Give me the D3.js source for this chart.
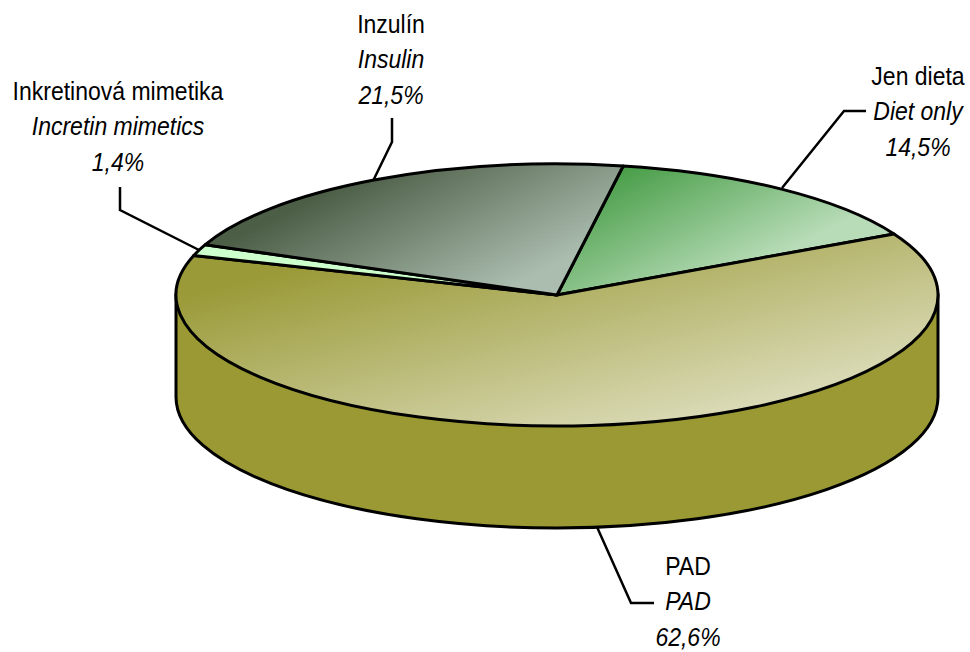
<!DOCTYPE html>
<html>
<head>
<meta charset="utf-8">
<script src="https://cdn.jsdelivr.net/npm/d3@7"></script>
<style>
  html, body { margin: 0; padding: 0; background: #fff; }
  text { font-family: "Liberation Sans", sans-serif; font-size: 26.5px; fill: #000; text-anchor: middle; }
  .en, .pct { font-style: italic; }
</style>
</head>
<body>
<div class="chart"></div>
<script>
// data, in drawing order (clockwise)
var namesCz = ["Jen dieta", "PAD", "Inkretinová mimetika", "Inzulín"];
var namesEn = ["Diet only", "PAD", "Incretin mimetics", "Insulin"];
var values = [14.5, 62.6, 1.4, 21.5];
var valueLabels = ["14,5%", "62,6%", "1,4%", "21,5%"];

var svgWidth = 970;
var svgHeight = 652;

// pie geometry
var cx = 557, cy = 295, rx = 381, ry = 131, depth = 102;
var tilt = ry / rx;
var startDeg = 10;
var narrow = 0.868; // no Arial Narrow here, so squeeze Liberation Sans

// colours and gradient vectors per slice (page coordinates), same order as the values
var sliceFill = [
  { id: "gDiet", x1: 640, y1: 150, x2: 710, y2: 290, from: "#429a42", to: "#b8dcb8" },
  { id: "gPad", x1: 470, y1: 225, x2: 535, y2: 490, from: "#9a9a38", to: "#e2e2c6" },
  { id: "gInc", x1: 200, y1: 250, x2: 500, y2: 290, from: "#ccffcc", to: "#ccffcc" },
  { id: "gIns", x1: 370, y1: 170, x2: 445, y2: 320, from: "#4d5e47", to: "#abbdaf" }
];

// label anchors and leader lines, same order as the values
var labelPos = [
  { x: 918, y: 85 },
  { x: 688, y: 575 },
  { x: 118, y: 100 },
  { x: 391, y: 33 }
];
var leaders = [
  [[866, 111], [844, 111], [782, 188]],
  [[597, 527], [631, 603], [654, 603]],
  [[120, 187], [120, 210], [199, 250]],
  [[392, 118], [392, 142], [373, 181]]
];

var svg = d3.select(".chart")
  .append("svg")
  .attr("width", svgWidth)
  .attr("height", svgHeight)
  .style("display", "block");

var defs = svg.append("defs");
sliceFill.forEach(function (f) {
  // undo the pie group's transform so the vectors stay in page coordinates
  var grad = defs.append("linearGradient")
    .attr("id", f.id)
    .attr("gradientUnits", "userSpaceOnUse")
    .attr("gradientTransform", `scale(1, ${1 / tilt}) translate(${-cx}, ${-cy})`)
    .attr("x1", f.x1).attr("y1", f.y1)
    .attr("x2", f.x2).attr("y2", f.y2);
  grad.append("stop").attr("offset", 0).attr("stop-color", f.from);
  grad.append("stop").attr("offset", 1).attr("stop-color", f.to);
});

// leaders go under the pie
var line = d3.line();
svg.selectAll(".leader")
  .data(leaders)
  .enter()
  .append("path")
  .attr("class", "leader")
  .attr("d", line)
  .attr("fill", "none")
  .attr("stroke", "#000")
  .attr("stroke-width", 2.5);

// side wall, drawn in the un-squashed circle space
var wall = d3.path();
wall.moveTo(-rx, 0);
wall.lineTo(-rx, depth / tilt);
wall.arc(0, depth / tilt, rx, Math.PI, 0, true);
wall.lineTo(rx, 0);
wall.closePath();

var pieGroup = svg.append("g")
  .attr("transform", `translate(${cx}, ${cy}) scale(1, ${tilt})`);

pieGroup.append("path")
  .attr("d", wall.toString())
  .attr("fill", "#9a9933")
  .attr("stroke", "#000")
  .attr("stroke-width", 3)
  .attr("vector-effect", "non-scaling-stroke");

// top face
var pie = d3.pie()
  .sort(null)
  .startAngle(startDeg * Math.PI / 180)
  .endAngle((startDeg + 360) * Math.PI / 180);

var arc = d3.arc().innerRadius(0).outerRadius(rx);

pieGroup.selectAll(".slice")
  .data(pie(values))
  .enter()
  .append("path")
  .attr("class", "slice")
  .attr("d", arc)
  .attr("fill", (d, i) => `url(#${sliceFill[i].id})`)
  .attr("stroke", "#000")
  .attr("stroke-width", 3)
  .attr("stroke-linejoin", "round")
  .attr("vector-effect", "non-scaling-stroke");

// labels: czech, english, value
var labels = svg.selectAll(".label")
  .data(values)
  .enter()
  .append("g")
  .attr("class", "label")
  .attr("transform", (d, i) => `translate(${labelPos[i].x}, ${labelPos[i].y}) scale(${narrow}, 1)`);

labels.append("text").attr("class", "cz").text((d, i) => namesCz[i]);
labels.append("text").attr("class", "en").attr("y", 35.5).text((d, i) => namesEn[i]);
labels.append("text").attr("class", "pct").attr("y", 71).text((d, i) => valueLabels[i]);
</script>
</body>
</html>
